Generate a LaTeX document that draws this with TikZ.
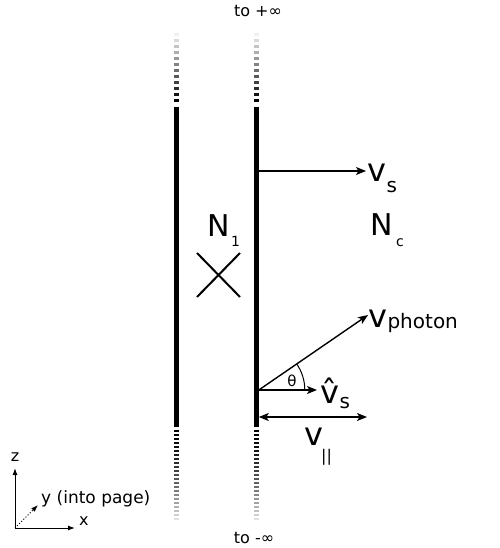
\documentclass[tikz,border=0pt]{standalone}
\usepackage{fontspec}
\setmainfont{DejaVu Sans}
\usetikzlibrary{arrows.meta,positioning,calc}

\begin{document}
\begin{tikzpicture}[x=1pt, y=-1pt, inner sep=0pt, node distance=6pt]
  \tikzstyle{sheet}=[line width=4.6pt]
  \tikzstyle{vec}=[line width=1.4pt, -{Stealth[length=10pt, width=8pt, inset=2.5pt]}]
  \tikzstyle{both}=[line width=1.4pt, {Stealth[length=10pt, width=8pt, inset=2.5pt]}-{Stealth[length=10pt, width=8pt, inset=2.5pt]}]
  \tikzstyle{axis}=[line width=1pt, -{Latex[length=7pt, width=5pt]}]
  \tikzstyle{big}=[font=\fontsize{32}{32}\selectfont]
  \tikzstyle{bigN}=[font=\fontsize{30}{30}\selectfont]
  \tikzstyle{sub}=[font=\fontsize{20}{20}\selectfont]
  \tikzstyle{subN}=[font=\fontsize{14}{14}\selectfont]
  \tikzstyle{small}=[font=\fontsize{16}{16}\selectfont]
  \useasboundingbox (0,0) rectangle (499,548);

  % the two sheets, fading out to the top and to the bottom
  \foreach \xx/\nm in {176.5/left, 256.5/right} {
    \coordinate (\nm top) at (\xx,107);
    \coordinate (\nm bot) at (\xx,427);
    \draw[sheet] (\nm top) -- (\nm bot);
    \foreach \i [evaluate=\i as \g using 6+\i*94/11] in {0,...,11}
      \draw[sheet, black!\g] (\xx,33+6*\i) -- ++(0,3.3);
    \foreach \i [evaluate=\i as \g using 100-88*(\i/22)^1.6] in {0,...,22}
      \draw[sheet, black!\g] (\xx,429.5+4*\i) -- ++(0,2.4);
  }
  \node[small, anchor=base] (plusinf) at (258,17) {to +∞};
  \node[small, anchor=base] (minusinf) at (254,543) {to -∞};

  % regions
  \node[bigN, anchor=base west] (N1) at (207,236) {N};
  \node[subN, anchor=base west] (N1s) at (231,246) {1};
  \node[bigN, anchor=base west] (Nc) at (370,235) {N};
  \node[subN, anchor=base west] (Ncs) at (396,246) {c};
  \draw[line width=2pt] (197,253) -- (240,297) (240,253) -- (197,297);

  % sheet velocity
  \coordinate (vsstart) at (258.8,171);
  \coordinate (vsend) at (366,171);
  \draw[vec] (vsstart) -- (vsend);
  \node[big, anchor=base west] (vs) at (367,182) {v};
  \node[sub, anchor=base west] (vss) at ($(vs.base east)+(0,10)$) {s};

  % photon and the angle
  \coordinate (o) at (258.8,390);
  \coordinate (ph) at (368,315);
  \coordinate (hat) at (317,390);
  \draw[vec] (o) -- (ph);
  \draw[vec] (o) -- (hat);
  \draw[line width=1pt] ($(o)+(46,0)$) arc[start angle=0, end angle=-34.4, radius=46];
  \node[font=\fontsize{15}{15}\selectfont] (theta) at (292,381) {θ};
  \node[big, anchor=base west] (vph) at (368,327) {v};
  \node[sub, anchor=base west] (vphs) at ($(vph.base east)+(0,1)$) {photon};
  \node[big, anchor=base west] (vhat) at (320,403) {\^{v}};
  \node[sub, anchor=base west] (vhats) at ($(vhat.base east)+(0,5)$) {s};

  % parallel component
  \coordinate (parstart) at (258.8,417);
  \coordinate (parend) at (367,417);
  \draw[both] (parstart) -- (parend);
  \node[big, anchor=base west] (vpar) at (304,445) {v};
  \node[small, anchor=base west] (vpars) at (321,461) {||};

  % axes
  \coordinate (ax) at (15,528);
  \coordinate (zend) at (15,468);
  \coordinate (xend) at (75,528);
  \coordinate (yend) at (38,505);
  \draw[axis] (ax) -- (zend);
  \draw[axis] (ax) -- (xend);
  \draw[axis, dotted] (ax) -- (yend);
  \node[small, above=of zend] (zl) {z};
  \node[small, anchor=base west] (xl) at (79,525) {x};
  \node[font=\fontsize{17}{17}\selectfont, anchor=base west] (yl) at (41,503) {y (into page)};
\end{tikzpicture}
\end{document}
